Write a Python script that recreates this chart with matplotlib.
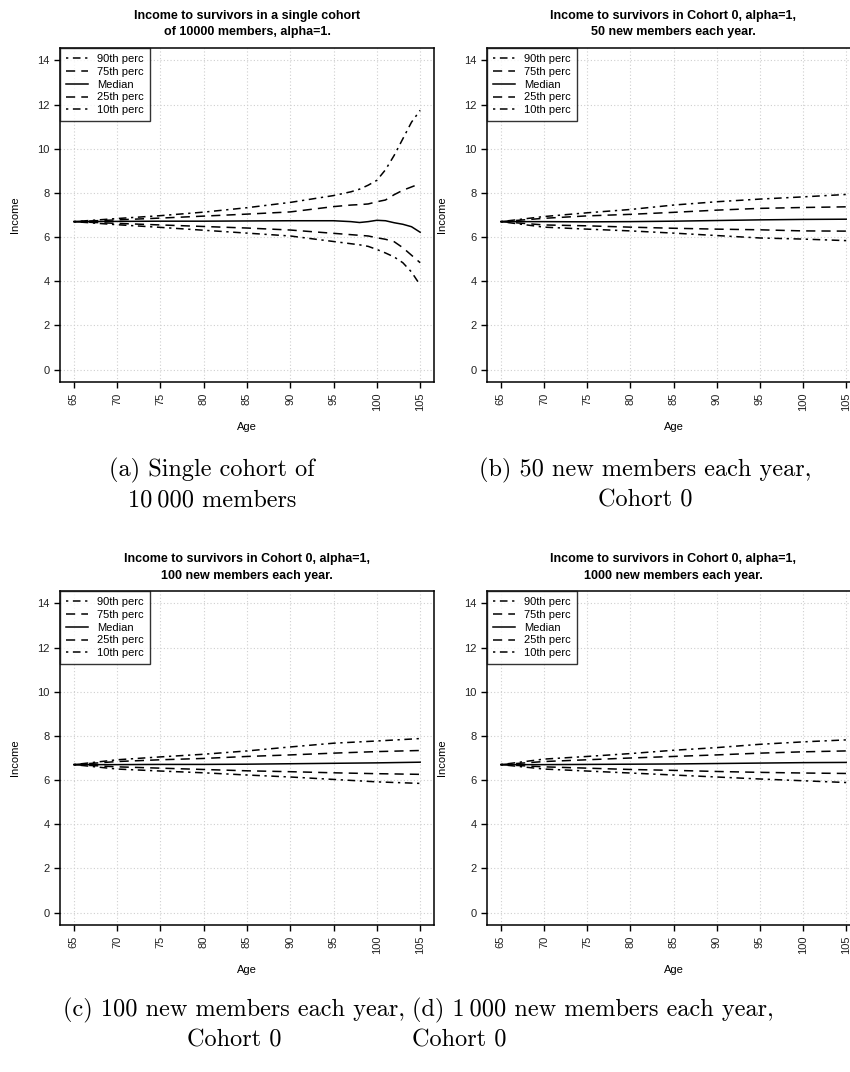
import matplotlib
matplotlib.use("Agg")
import matplotlib.pyplot as plt

# ---- data ----
ages_a = [65, 70, 75, 80, 85, 90, 95, 97, 98, 99, 100, 101, 102, 103, 104, 105]
p90_a = [6.70, 6.84, 6.97, 7.13, 7.33, 7.57, 7.88, 8.05, 8.17, 8.35, 8.57, 9.05, 9.70, 10.45, 11.20, 11.74]
p75_a = [6.70, 6.78, 6.86, 6.95, 7.04, 7.14, 7.38, 7.45, 7.47, 7.50, 7.60, 7.68, 7.92, 8.12, 8.27, 8.42]
med_a = [6.70, 6.71, 6.72, 6.72, 6.73, 6.74, 6.74, 6.70, 6.66, 6.70, 6.76, 6.74, 6.65, 6.58, 6.47, 6.22]
p25_a = [6.70, 6.62, 6.55, 6.48, 6.41, 6.32, 6.17, 6.11, 6.08, 6.05, 5.97, 5.90, 5.79, 5.52, 5.18, 4.84]
p10_a = [6.70, 6.56, 6.44, 6.31, 6.18, 6.05, 5.80, 5.70, 5.65, 5.58, 5.44, 5.28, 5.10, 4.84, 4.42, 3.83]

ages = [65, 70, 75, 80, 85, 90, 95, 100, 105]
p90_b = [6.70, 6.93, 7.10, 7.25, 7.45, 7.60, 7.72, 7.82, 7.93]
p75_b = [6.70, 6.85, 6.96, 7.03, 7.12, 7.22, 7.30, 7.34, 7.37]
med_b = [6.70, 6.70, 6.69, 6.70, 6.72, 6.75, 6.78, 6.80, 6.81]
p25_b = [6.70, 6.55, 6.51, 6.45, 6.40, 6.36, 6.33, 6.28, 6.27]
p10_b = [6.70, 6.45, 6.36, 6.28, 6.18, 6.07, 5.96, 5.91, 5.84]

p90_c = [6.70, 6.92, 7.05, 7.17, 7.32, 7.50, 7.67, 7.77, 7.88]
p75_c = [6.70, 6.84, 6.92, 6.98, 7.07, 7.14, 7.22, 7.29, 7.34]
med_c = [6.70, 6.70, 6.71, 6.71, 6.72, 6.74, 6.76, 6.78, 6.81]
p25_c = [6.70, 6.60, 6.54, 6.48, 6.42, 6.38, 6.33, 6.29, 6.26]
p10_c = [6.70, 6.50, 6.41, 6.33, 6.23, 6.14, 6.03, 5.92, 5.85]

p90_d = [6.70, 6.95, 7.07, 7.20, 7.35, 7.47, 7.62, 7.73, 7.82]
p75_d = [6.70, 6.84, 6.92, 7.00, 7.07, 7.14, 7.22, 7.28, 7.32]
med_d = [6.70, 6.70, 6.71, 6.72, 6.73, 6.75, 6.77, 6.79, 6.80]
p25_d = [6.70, 6.60, 6.54, 6.48, 6.44, 6.39, 6.35, 6.32, 6.30]
p10_d = [6.70, 6.50, 6.41, 6.32, 6.23, 6.14, 6.05, 5.97, 5.89]

labels = ["90th perc", "75th perc", "Median", "25th perc", "10th perc"]
titles = [
    "Income to survivors in a single cohort\nof 10000 members, alpha=1.",
    "Income to survivors in Cohort 0, alpha=1,\n50 new members each year.",
    "Income to survivors in Cohort 0, alpha=1,\n100 new members each year.",
    "Income to survivors in Cohort 0, alpha=1,\n1000 new members each year.",
]
captions = [
    "(a) Single cohort of\n10\u2009000 members",
    "(b) 50 new members each year,\nCohort 0",
    "(c) 100 new members each year,\nCohort 0",
    "(d) 1\u2009000 new members each year,\nCohort 0",
]

W, H = 850, 1072
plt.rcParams['font.family'] = ['Liberation Sans', 'DejaVu Sans']

dotdash = (0, (1.5, 3, 5, 3))
dashed = (0, (6, 4))
styles = [dotdash, dashed, '-', dashed, dotdash]

fig = plt.figure(figsize=(W / 100, H / 100), dpi=100)


def px_axes(left, top, right, bottom):
    return fig.add_axes([left / W, 1 - bottom / H, (right - left) / W, (bottom - top) / H])


def draw_panel(ax, x, series, title):
    for y, ls, lab in zip(series, styles, labels):
        ax.plot(x, y, color='black', linestyle=ls, linewidth=1.1, label=lab)
    ax.set_xlim(63.4, 106.6)
    ax.set_ylim(-0.56, 14.56)
    ax.set_xticks(range(65, 106, 5))
    ax.set_yticks(range(0, 15, 2))
    ax.grid(True, color='#cfcfcf', linestyle=(0, (1, 2)), linewidth=0.8)
    ax.tick_params(axis='x', labelrotation=90)
    ax.tick_params(length=4.5, width=1, labelsize=8, colors='black', labelcolor='#222222', pad=3)
    for s in ax.spines.values():
        s.set_linewidth(1.1)
    ax.set_xlabel("Age", fontsize=8, labelpad=8)
    ax.set_ylabel("Income", fontsize=8, labelpad=12)
    ax.set_title(title, fontsize=9, fontweight='bold', pad=9, linespacing=1.45)
    leg = ax.legend(loc='upper left', borderaxespad=0, fontsize=8, frameon=True,
                    fancybox=False, edgecolor='black', handlelength=2.0,
                    labelspacing=0.25, borderpad=0.55, handletextpad=0.8)
    leg.get_frame().set_linewidth(1.0)


ax_a = px_axes(60, 48, 434, 382)
draw_panel(ax_a, ages_a, [p90_a, p75_a, med_a, p25_a, p10_a], titles[0])
ax_b = px_axes(487, 48, 860, 382)
draw_panel(ax_b, ages, [p90_b, p75_b, med_b, p25_b, p10_b], titles[1])
ax_c = px_axes(60, 591, 434, 925)
draw_panel(ax_c, ages, [p90_c, p75_c, med_c, p25_c, p10_c], titles[2])
ax_d = px_axes(487, 591, 860, 925)
draw_panel(ax_d, ages, [p90_d, p75_d, med_d, p25_d, p10_d], titles[3])

cap_font = dict(family=['cmr10', 'DejaVu Serif'], fontsize=17.5, va='top', linespacing=1.38)
fig.text(212 / W, 1 - 458 / H, captions[0], ha='center', multialignment='center', **cap_font)
fig.text(645 / W, 1 - 458 / H, captions[1], ha='center', multialignment='center', **cap_font)
fig.text(234 / W, 1 - 998 / H, captions[2], ha='center', multialignment='center', **cap_font)
fig.text(412 / W, 1 - 998 / H, captions[3], ha='left', multialignment='left', **cap_font)

fig.savefig("out.png", dpi=100)
